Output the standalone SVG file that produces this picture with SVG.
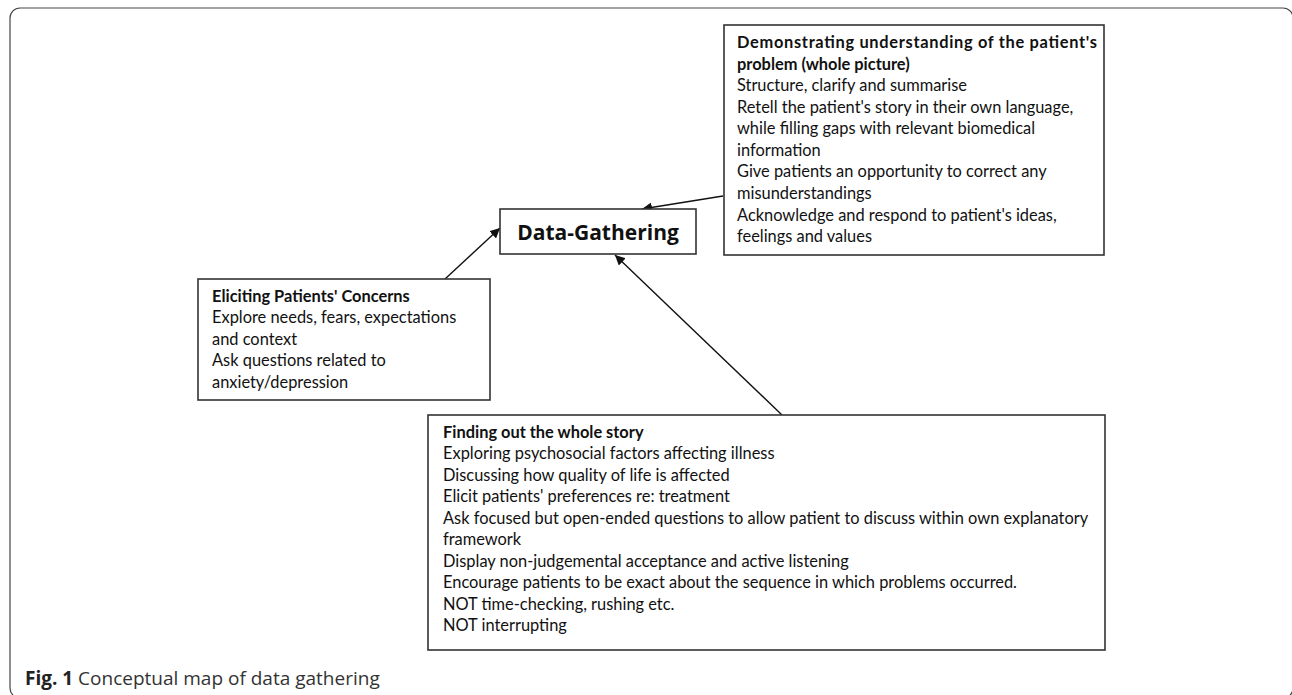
<svg xmlns="http://www.w3.org/2000/svg" width="1292" height="695" viewBox="0 0 1292 695">
<style>
.frame{fill:none;stroke:#444;stroke-width:1.2}
.box{fill:#fff;stroke:#333;stroke-width:1.6}
.t{font-family:Lato,"Liberation Sans",sans-serif;font-size:16.4px;fill:#111}
.b{font-weight:bold}
.title{font-family:"Open Sans","Liberation Sans",sans-serif;font-weight:bold;font-size:21px;fill:#111}
.cap{font-family:"Open Sans","Noto Sans",sans-serif;font-size:19px;fill:#333}
.conn{stroke:#111;stroke-width:1.4;fill:none;marker-end:url(#ah)}
</style>
<defs>
<marker id="ah" viewBox="0 0 10 10" refX="10" refY="5" markerWidth="10" markerHeight="10" markerUnits="userSpaceOnUse" orient="auto">
<path d="M0,0 L10,5 L0,10 z" fill="#111"/>
</marker>
</defs>
<rect width="1292" height="695" fill="#fff"/>
<rect class="frame" x="10" y="8" width="1283" height="690" rx="10"/>
<g id="connectors">
<line class="conn" x1="723" y1="196" x2="642" y2="209"/>
<line class="conn" x1="445" y1="279" x2="500" y2="228"/>
<line class="conn" x1="782" y1="415" x2="615" y2="255"/>
</g>
<g id="data-gathering">
<rect class="box" x="500" y="209" width="196" height="45"/>
<text class="title" x="598" y="240" text-anchor="middle">Data-Gathering</text>
</g>
<g id="demonstrating">
<rect class="box" x="724" y="25" width="380" height="230"/>
<text class="t">
<tspan class="b" x="737" y="48" textLength="360" lengthAdjust="spacing">Demonstrating understanding of the patient's</tspan>
<tspan class="b" x="737" y="70">problem (whole picture)</tspan>
<tspan x="737" y="91">Structure, clarify and summarise</tspan>
<tspan x="737" y="113">Retell the patient's story in their own language,</tspan>
<tspan x="737" y="134">while filling gaps with relevant biomedical</tspan>
<tspan x="737" y="156">information</tspan>
<tspan x="737" y="177">Give patients an opportunity to correct any</tspan>
<tspan x="737" y="199">misunderstandings</tspan>
<tspan x="737" y="221">Acknowledge and respond to patient's ideas,</tspan>
<tspan x="737" y="242">feelings and values</tspan>
</text>
</g>
<g id="eliciting">
<rect class="box" x="198" y="279" width="292" height="121"/>
<text class="t">
<tspan class="b" x="212" y="302">Eliciting Patients' Concerns</tspan>
<tspan x="212" y="323">Explore needs, fears, expectations</tspan>
<tspan x="212" y="345">and context</tspan>
<tspan x="212" y="366">Ask questions related to</tspan>
<tspan x="212" y="388">anxiety/depression</tspan>
</text>
</g>
<g id="finding">
<rect class="box" x="428" y="415" width="677" height="235"/>
<text class="t">
<tspan class="b" x="443" y="438">Finding out the whole story</tspan>
<tspan x="443" y="459">Exploring psychosocial factors affecting illness</tspan>
<tspan x="443" y="481">Discussing how quality of life is affected</tspan>
<tspan x="443" y="502">Elicit patients' preferences re: treatment</tspan>
<tspan x="443" y="524">Ask focused but open-ended questions to allow patient to discuss within own explanatory</tspan>
<tspan x="443" y="545">framework</tspan>
<tspan x="443" y="567">Display non-judgemental acceptance and active listening</tspan>
<tspan x="443" y="588">Encourage patients to be exact about the sequence in which problems occurred.</tspan>
<tspan x="443" y="610">NOT time-checking, rushing etc.</tspan>
<tspan x="443" y="631">NOT interrupting</tspan>
</text>
</g>
<text class="cap" x="25" y="685"><tspan font-weight="bold" fill="#222">Fig. 1</tspan> Conceptual map of data gathering</text>
</svg>
